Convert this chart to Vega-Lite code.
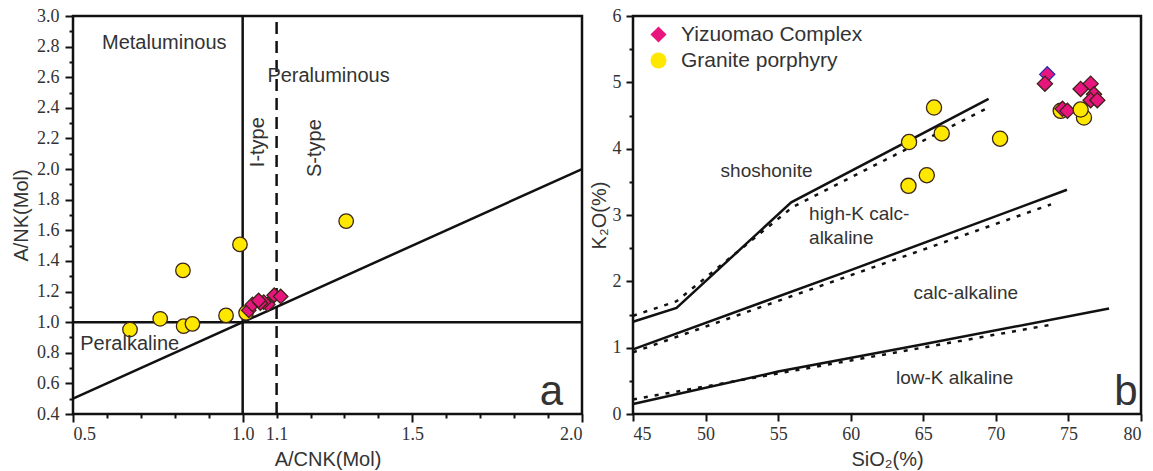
{
  "$schema": "https://vega.github.io/schema/vega-lite/v6.json",
  "background": "white",
  "padding": {"left": 10, "top": 5, "right": 5, "bottom": 5},
  "bounds": "flush",
  "spacing": 51,
  "config": {
    "view": {"stroke": "#111", "strokeWidth": 2.5, "fill": "transparent"},
    "axis": {
      "domain": false, "ticks": true, "tickColor": "#111", "tickWidth": 2, "tickOpacity": 1,
      "labelFont": "Liberation Serif", "labelFontSize": 18, "labelColor": "#333",
      "titleFont": "Liberation Sans", "titleFontSize": 20, "titleFontWeight": "normal", "titleColor": "#333",
      "grid": false
    },
    "text": {"font": "Liberation Sans", "fill": "#333"}
  },
  "datasets": {
    "leftSolid": [
      {"g": "v", "o": 0, "x": 1.0, "y": 0.4}, {"g": "v", "o": 1, "x": 1.0, "y": 3.0},
      {"g": "h", "o": 0, "x": 0.5, "y": 1.0}, {"g": "h", "o": 1, "x": 2.0, "y": 1.0},
      {"g": "d", "o": 0, "x": 0.5, "y": 0.5}, {"g": "d", "o": 1, "x": 2.0, "y": 2.0}
    ],
    "leftDash": [
      {"g": "s", "o": 0, "x": 1.1, "y": 0.4}, {"g": "s", "o": 1, "x": 1.1, "y": 3.0}
    ],
    "leftPts": [
      {"type": "Granite porphyry", "edge": "dark", "x": 0.668, "y": 0.952},
      {"type": "Granite porphyry", "edge": "dark", "x": 0.757, "y": 1.022},
      {"type": "Granite porphyry", "edge": "dark", "x": 0.824, "y": 1.338},
      {"type": "Granite porphyry", "edge": "dark", "x": 0.826, "y": 0.974},
      {"type": "Granite porphyry", "edge": "dark", "x": 0.852, "y": 0.989},
      {"type": "Granite porphyry", "edge": "dark", "x": 0.951, "y": 1.044},
      {"type": "Granite porphyry", "edge": "dark", "x": 0.992, "y": 1.508},
      {"type": "Granite porphyry", "edge": "dark", "x": 1.010, "y": 1.061},
      {"type": "Granite porphyry", "edge": "dark", "x": 1.305, "y": 1.66},
      {"type": "Yizuomao Complex", "edge": "dark", "x": 1.018, "y": 1.077},
      {"type": "Yizuomao Complex", "edge": "dark", "x": 1.029, "y": 1.116},
      {"type": "Yizuomao Complex", "edge": "dark", "x": 1.074, "y": 1.116},
      {"type": "Yizuomao Complex", "edge": "dark", "x": 1.062, "y": 1.131},
      {"type": "Yizuomao Complex", "edge": "dark", "x": 1.052, "y": 1.125},
      {"type": "Yizuomao Complex", "edge": "dark", "x": 1.047, "y": 1.142},
      {"type": "Yizuomao Complex", "edge": "dark", "x": 1.093, "y": 1.176},
      {"type": "Yizuomao Complex", "edge": "dark", "x": 1.112, "y": 1.168}
    ],
    "leftText": [
      {"x": 0.769, "y": 2.824, "t": "Metaluminous"},
      {"x": 1.253, "y": 2.608, "t": "Peraluminous"},
      {"x": 0.667, "y": 0.858, "t": "Peralkaline"}
    ],
    "leftRot": [
      {"x": 1.046, "y": 2.176, "t": "I-type"},
      {"x": 1.214, "y": 2.137, "t": "S-type"}
    ],
    "leftBig": [{"x": 1.91, "y": 0.545, "t": "a"}],
    "rightSolid": [
      {"g": "top", "o": 0, "x": 45, "y": 1.39}, {"g": "top", "o": 1, "x": 48, "y": 1.6},
      {"g": "top", "o": 2, "x": 55.9, "y": 3.19}, {"g": "top", "o": 3, "x": 69.5, "y": 4.75},
      {"g": "mid", "o": 0, "x": 45, "y": 0.975}, {"g": "mid", "o": 1, "x": 60, "y": 2.17},
      {"g": "mid", "o": 2, "x": 74.9, "y": 3.38},
      {"g": "low", "o": 0, "x": 45, "y": 0.15}, {"g": "low", "o": 1, "x": 55, "y": 0.64},
      {"g": "low", "o": 2, "x": 65, "y": 1.05}, {"g": "low", "o": 3, "x": 77.8, "y": 1.59}
    ],
    "rightDash": [
      {"g": "top", "o": 0, "x": 45, "y": 1.48}, {"g": "top", "o": 1, "x": 48, "y": 1.7},
      {"g": "top", "o": 2, "x": 56, "y": 3.12}, {"g": "top", "o": 3, "x": 69.3, "y": 4.6},
      {"g": "mid", "o": 0, "x": 45, "y": 0.93}, {"g": "mid", "o": 1, "x": 73.8, "y": 3.16},
      {"g": "low", "o": 0, "x": 45, "y": 0.22}, {"g": "low", "o": 1, "x": 73.9, "y": 1.35}
    ],
    "rightPts": [
      {"type": "Granite porphyry", "edge": "dark", "x": 65.74, "y": 4.62},
      {"type": "Granite porphyry", "edge": "dark", "x": 64.02, "y": 4.10},
      {"type": "Granite porphyry", "edge": "dark", "x": 66.27, "y": 4.23},
      {"type": "Granite porphyry", "edge": "dark", "x": 70.29, "y": 4.15},
      {"type": "Granite porphyry", "edge": "dark", "x": 65.24, "y": 3.60},
      {"type": "Granite porphyry", "edge": "dark", "x": 63.98, "y": 3.44},
      {"type": "Granite porphyry", "edge": "dark", "x": 74.47, "y": 4.57},
      {"type": "Yizuomao Complex", "edge": "blue", "x": 73.54, "y": 5.12},
      {"type": "Yizuomao Complex", "edge": "dark", "x": 73.38, "y": 4.98},
      {"type": "Yizuomao Complex", "edge": "dark", "x": 75.84, "y": 4.90},
      {"type": "Yizuomao Complex", "edge": "dark", "x": 76.53, "y": 4.98},
      {"type": "Yizuomao Complex", "edge": "dark", "x": 76.76, "y": 4.82},
      {"type": "Yizuomao Complex", "edge": "dark", "x": 76.53, "y": 4.73},
      {"type": "Yizuomao Complex", "edge": "dark", "x": 76.99, "y": 4.73},
      {"type": "Yizuomao Complex", "edge": "dark", "x": 74.59, "y": 4.60},
      {"type": "Yizuomao Complex", "edge": "dark", "x": 74.93, "y": 4.57},
      {"type": "Granite porphyry", "edge": "dark", "x": 76.07, "y": 4.47},
      {"type": "Granite porphyry", "edge": "dark", "x": 75.84, "y": 4.59}
    ],
    "rightText": [
      {"x": 54.2, "y": 3.66, "t": "shoshonite"},
      {"x": 67.93, "y": 1.83, "t": "calc-alkaline"},
      {"x": 67.16, "y": 0.547, "t": "low-K alkaline"}
    ],
    "rightLeftText": [
      {"x": 57.13, "y": 3.01, "t": ["high-K calc-", "alkaline"]}
    ],
    "rightBig": [{"x": 78.96, "y": 0.336, "t": "b"}]
  },
  "resolve": {
    "scale": {"fill": "independent", "shape": "independent", "stroke": "independent"},
    "legend": {"fill": "independent", "shape": "independent", "stroke": "independent"}
  },
  "hconcat": [
    {
      "width": 509,
      "height": 398,
      "resolve": {"axis": {"x": "independent", "y": "independent"}},
      "layer": [
        {
          "data": {"name": "leftSolid"},
          "mark": {"type": "line", "stroke": "#111", "strokeWidth": 2.5},
          "encoding": {
            "x": {"field": "x", "type": "quantitative", "scale": {"domain": [0.5, 2.0], "nice": false, "zero": false},
              "axis": {"orient": "bottom", "values": [0.5, 1.0, 1.5, 2.0], "format": ".1f", "tickSize": 8, "labelPadding": 3, "title": "A/CNK(Mol)", "titlePadding": 6}},
            "y": {"field": "y", "type": "quantitative", "scale": {"domain": [0.4, 3.0], "nice": false, "zero": false},
              "axis": {"orient": "left", "values": [0.4, 0.6, 0.8, 1.0, 1.2, 1.4, 1.6, 1.8, 2.0, 2.2, 2.4, 2.6, 2.8, 3.0], "format": ".1f", "tickSize": 8, "labelPadding": 6, "title": "A/NK(Mol)", "titlePadding": 5}},
            "detail": {"field": "g"},
            "order": {"field": "o"}
          }
        },
        {
          "data": {"name": "leftDash"},
          "mark": {"type": "line", "stroke": "#111", "strokeWidth": 2.5, "strokeDash": [12, 7]},
          "encoding": {
            "x": {"field": "x", "type": "quantitative", "scale": {"domain": [0.5, 2.0], "nice": false, "zero": false},
              "axis": {"orient": "bottom", "values": [0.6, 0.7, 0.8, 0.9, 1.1, 1.2, 1.3, 1.4, 1.6, 1.7, 1.8, 1.9], "tickSize": 4, "labelExpr": "datum.value > 1.05 && datum.value < 1.15 ? '1.1' : ''", "labelPadding": 7, "title": null}},
            "y": {"field": "y", "type": "quantitative", "scale": {"domain": [0.4, 3.0], "nice": false, "zero": false},
              "axis": {"orient": "left", "values": [0.5, 0.7, 0.9, 1.1, 1.3, 1.5, 1.7, 1.9, 2.1, 2.3, 2.5, 2.7, 2.9], "tickSize": 4, "labels": false, "title": null}},
            "detail": {"field": "g"},
            "order": {"field": "o"}
          }
        },
        {
          "data": {"name": "leftPts"},
          "mark": {"type": "point", "filled": true, "size": 210, "strokeWidth": 1.3, "opacity": 1},
          "encoding": {
            "x": {"field": "x", "type": "quantitative", "scale": {"domain": [0.5, 2.0], "nice": false, "zero": false}, "axis": null},
            "y": {"field": "y", "type": "quantitative", "scale": {"domain": [0.4, 3.0], "nice": false, "zero": false}, "axis": null},
            "fill": {"field": "type", "type": "nominal", "scale": {"domain": ["Yizuomao Complex", "Granite porphyry"], "range": ["#E9157F", "#FFE800"]}, "legend": null},
            "shape": {"field": "type", "type": "nominal", "scale": {"domain": ["Yizuomao Complex", "Granite porphyry"], "range": ["diamond", "circle"]}, "legend": null},
            "stroke": {"field": "edge", "type": "nominal", "scale": {"domain": ["dark", "blue"], "range": ["#3a2418", "#2b2bb0"]}, "legend": null}
          }
        },
        {
          "data": {"name": "leftText"},
          "mark": {"type": "text", "fontSize": 20, "align": "center", "baseline": "middle"},
          "encoding": {
            "x": {"field": "x", "type": "quantitative", "scale": {"domain": [0.5, 2.0], "nice": false, "zero": false}, "axis": null},
            "y": {"field": "y", "type": "quantitative", "scale": {"domain": [0.4, 3.0], "nice": false, "zero": false}, "axis": null},
            "text": {"field": "t"}
          }
        },
        {
          "data": {"name": "leftRot"},
          "mark": {"type": "text", "fontSize": 20, "align": "center", "baseline": "middle", "angle": 270},
          "encoding": {
            "x": {"field": "x", "type": "quantitative", "scale": {"domain": [0.5, 2.0], "nice": false, "zero": false}, "axis": null},
            "y": {"field": "y", "type": "quantitative", "scale": {"domain": [0.4, 3.0], "nice": false, "zero": false}, "axis": null},
            "text": {"field": "t"}
          }
        },
        {
          "data": {"name": "leftBig"},
          "mark": {"type": "text", "fontSize": 42, "align": "center", "baseline": "middle"},
          "encoding": {
            "x": {"field": "x", "type": "quantitative", "scale": {"domain": [0.5, 2.0], "nice": false, "zero": false}, "axis": null},
            "y": {"field": "y", "type": "quantitative", "scale": {"domain": [0.4, 3.0], "nice": false, "zero": false}, "axis": null},
            "text": {"field": "t"}
          }
        }
      ]
    },
    {
      "width": 508,
      "height": 398,
      "resolve": {"axis": {"x": "independent", "y": "independent"}},
      "layer": [
        {
          "data": {"name": "rightSolid"},
          "mark": {"type": "line", "stroke": "#111", "strokeWidth": 2.5},
          "encoding": {
            "x": {"field": "x", "type": "quantitative", "scale": {"domain": [45, 80], "nice": false, "zero": false},
              "axis": {"orient": "bottom", "values": [45, 50, 55, 60, 65, 70, 75, 80], "tickSize": 7, "labelPadding": 4, "title": "SiO₂(%)", "titlePadding": 6}},
            "y": {"field": "y", "type": "quantitative", "scale": {"domain": [0, 6], "nice": false, "zero": false},
              "axis": {"orient": "left", "values": [0, 1, 2, 3, 4, 5, 6], "tickSize": 7, "labelPadding": 5, "title": "K₂O(%)", "titlePadding": 3}},
            "detail": {"field": "g"},
            "order": {"field": "o"}
          }
        },
        {
          "data": {"name": "rightDash"},
          "mark": {"type": "line", "stroke": "#111", "strokeWidth": 2.5, "strokeDash": [4, 7]},
          "encoding": {
            "x": {"field": "x", "type": "quantitative", "scale": {"domain": [45, 80], "nice": false, "zero": false}, "axis": null},
            "y": {"field": "y", "type": "quantitative", "scale": {"domain": [0, 6], "nice": false, "zero": false},
              "axis": {"orient": "left", "values": [0.5, 1.5, 2.5, 3.5, 4.5, 5.5], "tickSize": 4, "labels": false, "title": null}},
            "detail": {"field": "g"},
            "order": {"field": "o"}
          }
        },
        {
          "data": {"name": "rightPts"},
          "mark": {"type": "point", "filled": true, "size": 230, "strokeWidth": 1.3, "opacity": 1},
          "encoding": {
            "x": {"field": "x", "type": "quantitative", "scale": {"domain": [45, 80], "nice": false, "zero": false}, "axis": null},
            "y": {"field": "y", "type": "quantitative", "scale": {"domain": [0, 6], "nice": false, "zero": false}, "axis": null},
            "fill": {"field": "type", "type": "nominal", "scale": {"domain": ["Yizuomao Complex", "Granite porphyry"], "range": ["#E9157F", "#FFE800"]},
              "legend": {"title": null, "orient": "none", "legendX": 15, "legendY": 8, "padding": 0, "labelFont": "Liberation Sans", "labelFontSize": 21, "labelColor": "#333", "labelLimit": 0, "labelOffset": 12, "symbolSize": 260, "symbolStrokeColor": "#3a2418", "symbolStrokeWidth": 1.3, "rowPadding": 3}},
            "shape": {"field": "type", "type": "nominal", "scale": {"domain": ["Yizuomao Complex", "Granite porphyry"], "range": ["diamond", "circle"]}},
            "stroke": {"field": "edge", "type": "nominal", "scale": {"domain": ["dark", "blue"], "range": ["#3a2418", "#2b2bb0"]}, "legend": null}
          }
        },
        {
          "data": {"name": "rightText"},
          "mark": {"type": "text", "fontSize": 19, "align": "center", "baseline": "middle"},
          "encoding": {
            "x": {"field": "x", "type": "quantitative", "scale": {"domain": [45, 80], "nice": false, "zero": false}, "axis": null},
            "y": {"field": "y", "type": "quantitative", "scale": {"domain": [0, 6], "nice": false, "zero": false}, "axis": null},
            "text": {"field": "t"}
          }
        },
        {
          "data": {"name": "rightLeftText"},
          "mark": {"type": "text", "fontSize": 19, "align": "left", "baseline": "middle", "lineHeight": 24},
          "encoding": {
            "x": {"field": "x", "type": "quantitative", "scale": {"domain": [45, 80], "nice": false, "zero": false}, "axis": null},
            "y": {"field": "y", "type": "quantitative", "scale": {"domain": [0, 6], "nice": false, "zero": false}, "axis": null},
            "text": {"field": "t"}
          }
        },
        {
          "data": {"name": "rightBig"},
          "mark": {"type": "text", "fontSize": 42, "align": "center", "baseline": "middle"},
          "encoding": {
            "x": {"field": "x", "type": "quantitative", "scale": {"domain": [45, 80], "nice": false, "zero": false}, "axis": null},
            "y": {"field": "y", "type": "quantitative", "scale": {"domain": [0, 6], "nice": false, "zero": false}, "axis": null},
            "text": {"field": "t"}
          }
        }
      ]
    }
  ]
}
